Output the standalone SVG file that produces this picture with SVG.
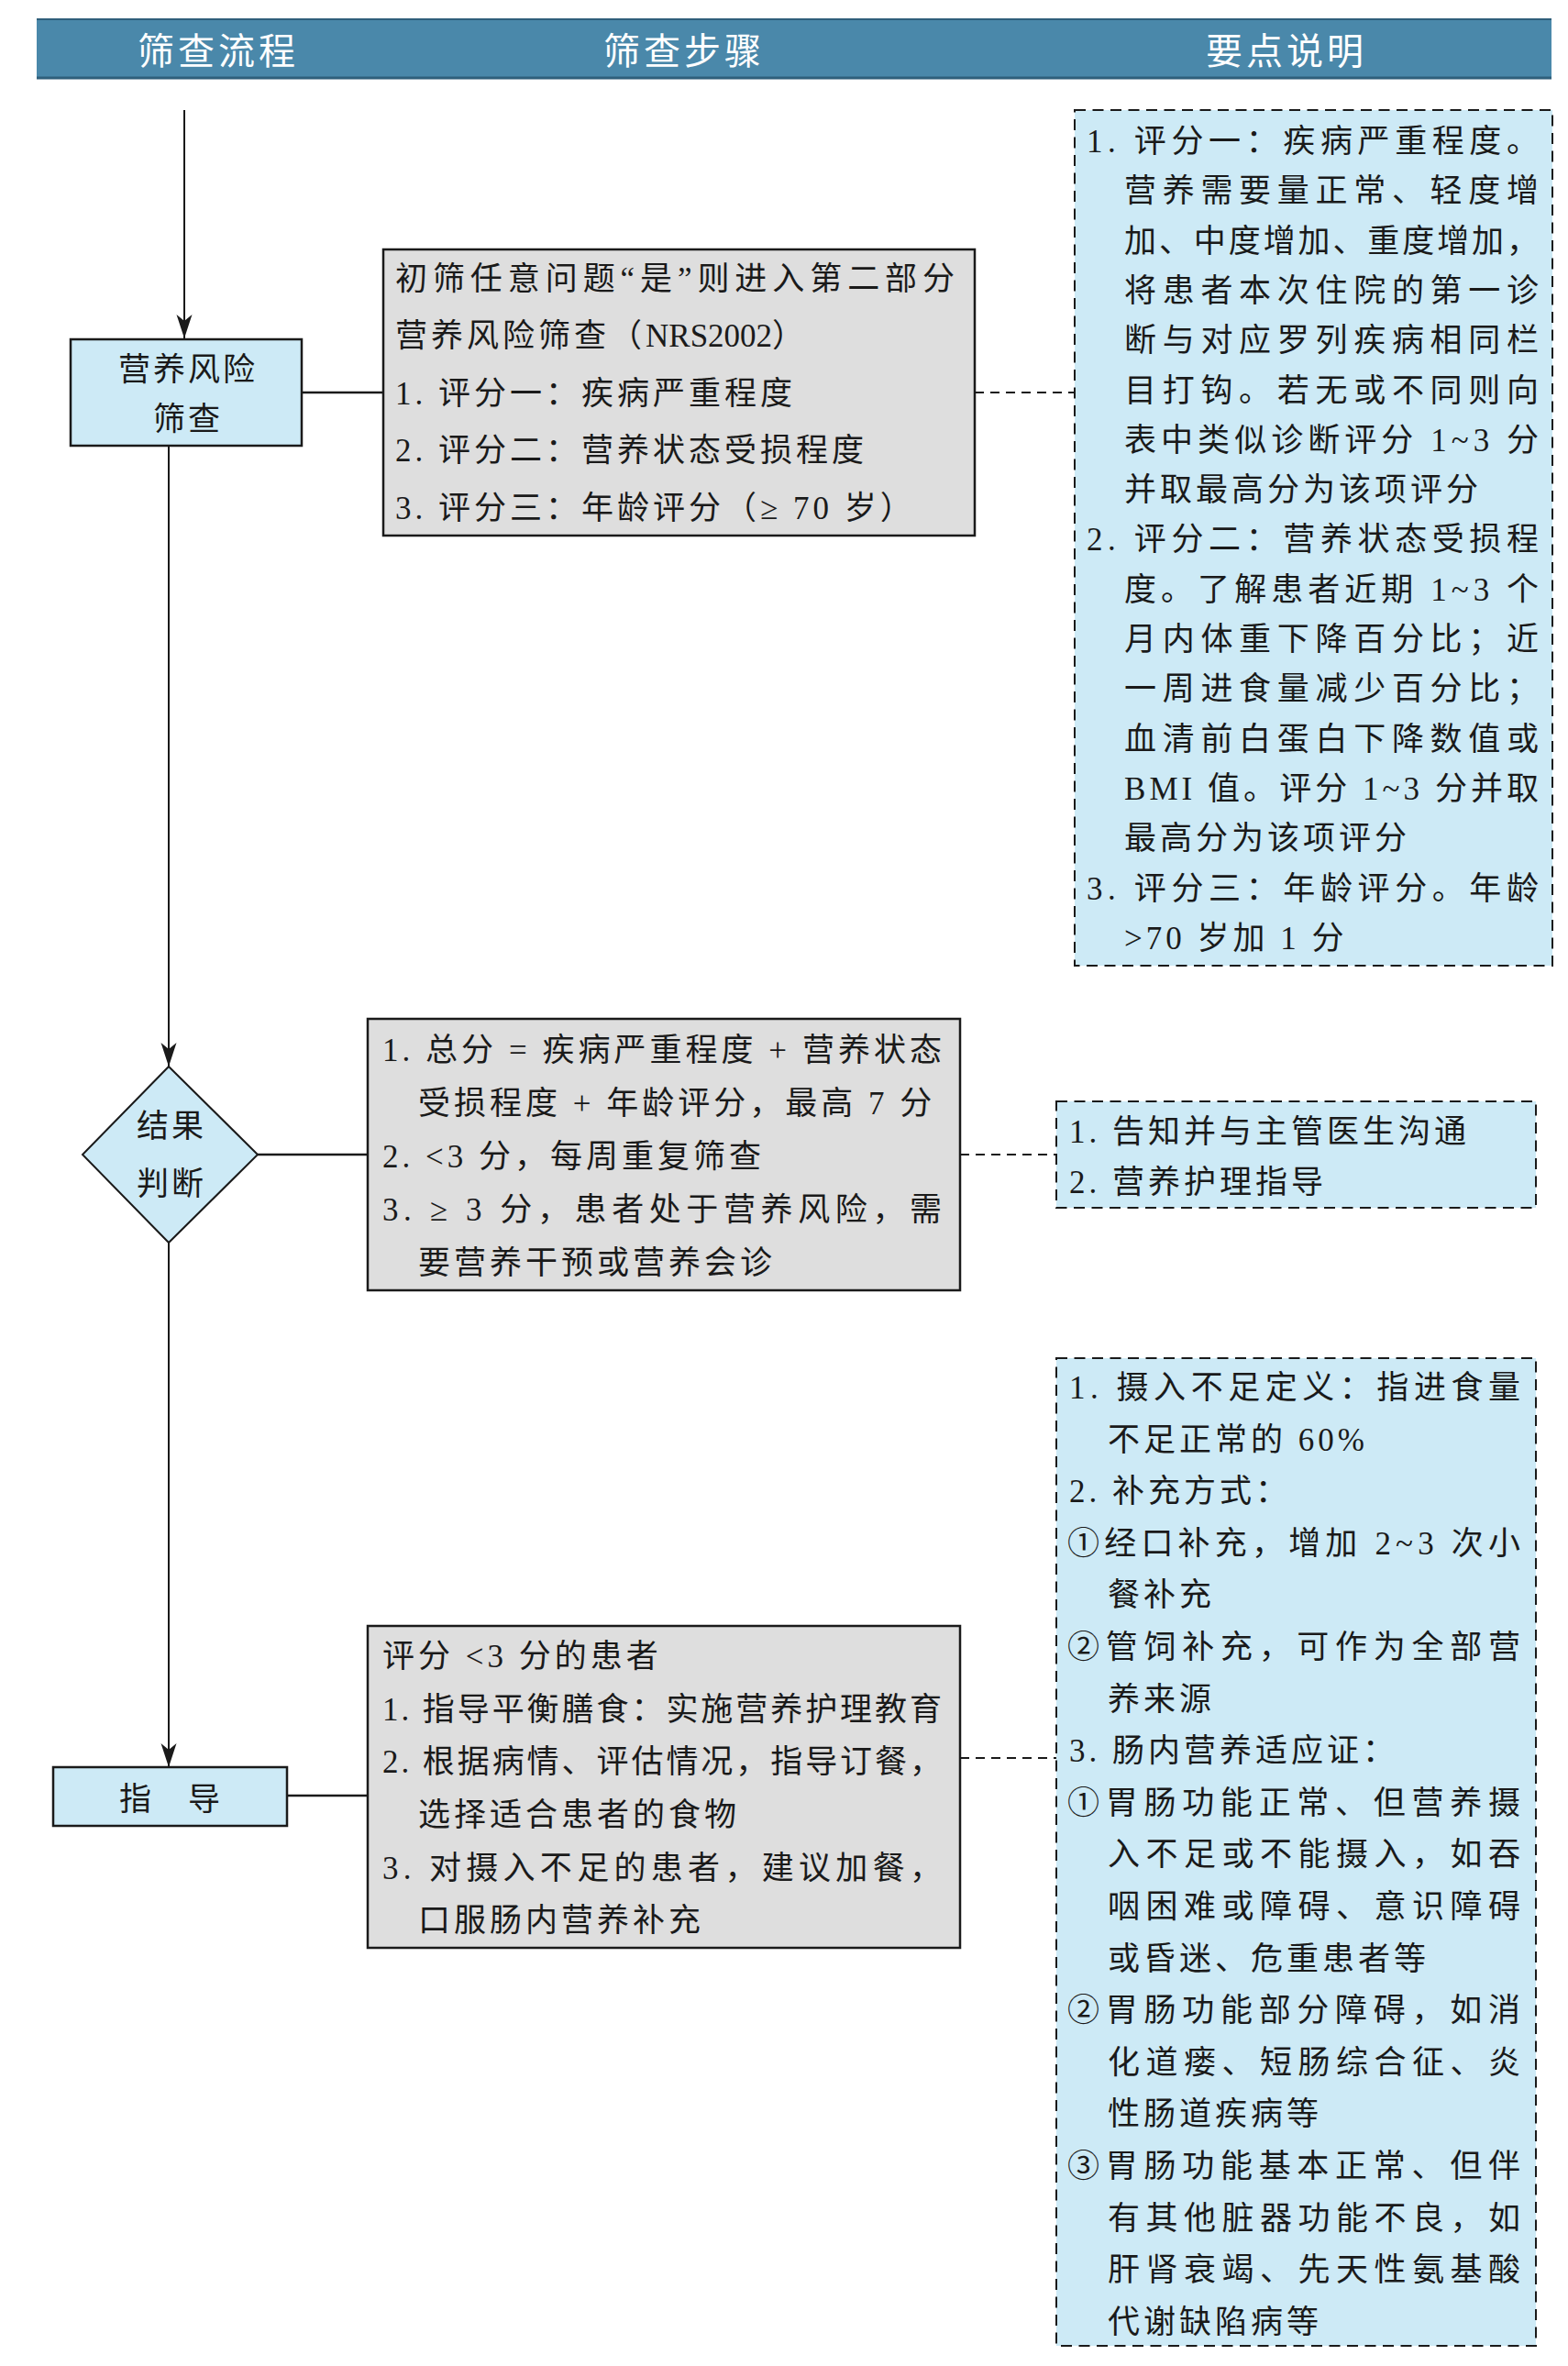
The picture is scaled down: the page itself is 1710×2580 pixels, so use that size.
<svg xmlns="http://www.w3.org/2000/svg" width="1710" height="2580" viewBox="0 0 1710 2580">
<style>
.hdr{font-family:"Noto Sans CJK SC",sans-serif;font-size:40px;fill:#ffffff;letter-spacing:4px;text-anchor:middle;dominant-baseline:central}
.t{font-family:"Liberation Serif","Noto Sans CJK SC",serif;font-size:35px;fill:#1a1a1a;letter-spacing:4px}
.c{text-anchor:middle;letter-spacing:3px}
.blue{fill:#cdeaf6;stroke:#1a1a1a;stroke-width:2.5}
.gray{fill:#dedede;stroke:#1a1a1a;stroke-width:2.5}
.dash{fill:#cdeaf6;stroke:#1a1a1a;stroke-width:2;stroke-dasharray:12 7.5}
.ln{stroke:#1a1a1a;stroke-width:2.5;fill:none}
.lv{stroke:#1a1a1a;stroke-width:2;fill:none}
.dl{stroke:#1a1a1a;stroke-width:2;fill:none;stroke-dasharray:10 7}
</style>
<defs>
<marker id="arr" viewBox="0 -9 26 18" markerWidth="26" markerHeight="18" refX="26" refY="0" markerUnits="userSpaceOnUse" orient="auto">
<path d="M0,-8.5 L26,0 L0,8.5 L7,0 Z" fill="#1a1a1a"/>
</marker>
</defs>

<g id="header">
<rect x="40" y="20" width="1652" height="66" fill="#4a88aa"/>
<line x1="40" y1="21" x2="1692" y2="21" stroke="#2f5f7b" stroke-width="2"/>
<line x1="40" y1="85" x2="1692" y2="85" stroke="#2f5f7b" stroke-width="3"/>
<text class="hdr" x="238" y="53">筛查流程</text>
<text class="hdr" x="746" y="53">筛查步骤</text>
<text class="hdr" x="1403" y="53">要点说明</text>
</g>

<g id="connectors">
<line class="lv" x1="201" y1="120" x2="201" y2="369" marker-end="url(#arr)"/>
<line class="lv" x1="184" y1="486" x2="184" y2="1163" marker-end="url(#arr)"/>
<line class="lv" x1="184" y1="1355" x2="184" y2="1927" marker-end="url(#arr)"/>
<line class="ln" x1="329" y1="428" x2="418" y2="428"/>
<line class="dl" x1="1063" y1="428" x2="1172" y2="428"/>
<line class="ln" x1="281" y1="1259" x2="401" y2="1259"/>
<line class="dl" x1="1047" y1="1259" x2="1152" y2="1259"/>
<line class="ln" x1="313" y1="1958" x2="401" y2="1958"/>
<line class="dl" x1="1047" y1="1917" x2="1152" y2="1917"/>
</g>

<g id="node-screen">
<rect class="blue" x="77" y="370" width="252" height="116"/>
<text class="t c" x="205" y="415">营养风险</text>
<text class="t c" x="205" y="469">筛查</text>
</g>

<g id="node-judge">
<polygon class="blue" style="stroke-width:2" points="184,1163 281,1259 184,1355 90,1259"/>
<text class="t c" x="187" y="1240">结果</text>
<text class="t c" x="187" y="1303">判断</text>
</g>

<g id="node-guide">
<rect class="blue" x="58" y="1927" width="255" height="64"/>
<text class="t" x="130" y="1974">指</text>
<text class="t" x="205" y="1974">导</text>
</g>

<g id="step-1">
<rect class="gray" x="418" y="272" width="645" height="312"/>
<text class="t" x="431" y="316" textLength="614" lengthAdjust="spacing">初筛任意问题“是”则进入第二部分</text>
<text class="t" x="431" y="378">营养风险筛查（<tspan style="letter-spacing:0">NRS2002</tspan>）</text>
<text class="t" x="431" y="441">1. 评分一：疾病严重程度</text>
<text class="t" x="431" y="503">2. 评分二：营养状态受损程度</text>
<text class="t" x="431" y="566">3. 评分三：年龄评分（≥ 70 岁）</text>
</g>

<g id="step-2">
<rect class="gray" x="401" y="1111" width="646" height="296"/>
<text class="t" x="417" y="1157" textLength="614" lengthAdjust="spacing">1. 总分 = 疾病严重程度 + 营养状态</text>
<text class="t" x="456" y="1215">受损程度 + 年龄评分，最高 7 分</text>
<text class="t" x="417" y="1273">2. &lt;3 分，每周重复筛查</text>
<text class="t" x="417" y="1331" textLength="614" lengthAdjust="spacing">3. ≥ 3 分，患者处于营养风险，需</text>
<text class="t" x="456" y="1389">要营养干预或营养会诊</text>
</g>

<g id="step-3">
<rect class="gray" x="401" y="1773" width="646" height="351"/>
<text class="t" x="417" y="1818">评分 &lt;3 分的患者</text>
<text class="t" x="417" y="1876" textLength="614" lengthAdjust="spacing">1. 指导平衡膳食：实施营养护理教育</text>
<text class="t" x="417" y="1933" textLength="614" lengthAdjust="spacing">2. 根据病情、评估情况，指导订餐，</text>
<text class="t" x="456" y="1991">选择适合患者的食物</text>
<text class="t" x="417" y="2049" textLength="614" lengthAdjust="spacing">3. 对摄入不足的患者，建议加餐，</text>
<text class="t" x="456" y="2106">口服肠内营养补充</text>
</g>

<g id="note-1">
<rect class="dash" x="1172" y="120" width="521" height="933"/>
<text class="t" x="1185" y="166" textLength="497" lengthAdjust="spacing">1. 评分一：疾病严重程度。</text>
<text class="t" x="1226" y="220" textLength="456" lengthAdjust="spacing">营养需要量正常、轻度增</text>
<text class="t" x="1226" y="275" textLength="456" lengthAdjust="spacing">加、中度增加、重度增加，</text>
<text class="t" x="1226" y="329" textLength="456" lengthAdjust="spacing">将患者本次住院的第一诊</text>
<text class="t" x="1226" y="383" textLength="456" lengthAdjust="spacing">断与对应罗列疾病相同栏</text>
<text class="t" x="1226" y="438" textLength="456" lengthAdjust="spacing">目打钩。若无或不同则向</text>
<text class="t" x="1226" y="492" textLength="456" lengthAdjust="spacing">表中类似诊断评分 1~3 分</text>
<text class="t" x="1226" y="546">并取最高分为该项评分</text>
<text class="t" x="1185" y="600" textLength="497" lengthAdjust="spacing">2. 评分二：营养状态受损程</text>
<text class="t" x="1226" y="655" textLength="456" lengthAdjust="spacing">度。了解患者近期 1~3 个</text>
<text class="t" x="1226" y="709" textLength="456" lengthAdjust="spacing">月内体重下降百分比；近</text>
<text class="t" x="1226" y="763" textLength="456" lengthAdjust="spacing">一周进食量减少百分比；</text>
<text class="t" x="1226" y="818" textLength="456" lengthAdjust="spacing">血清前白蛋白下降数值或</text>
<text class="t" x="1226" y="872" textLength="456" lengthAdjust="spacing">BMI 值。评分 1~3 分并取</text>
<text class="t" x="1226" y="926">最高分为该项评分</text>
<text class="t" x="1185" y="981" textLength="497" lengthAdjust="spacing">3. 评分三：年龄评分。年龄</text>
<text class="t" x="1226" y="1035">&gt;70 岁加 1 分</text>
</g>

<g id="note-2">
<rect class="dash" x="1152" y="1201" width="523" height="116"/>
<text class="t" x="1166" y="1246">1. 告知并与主管医生沟通</text>
<text class="t" x="1166" y="1301">2. 营养护理指导</text>
</g>

<g id="note-3">
<rect class="dash" x="1152" y="1481" width="523" height="1077"/>
<text class="t" x="1166" y="1525" textLength="496" lengthAdjust="spacing">1. 摄入不足定义：指进食量</text>
<text class="t" x="1208" y="1582">不足正常的 60%</text>
<text class="t" x="1166" y="1638">2. 补充方式：</text>
<text class="t" x="1164" y="1695" textLength="498" lengthAdjust="spacing">①经口补充，增加 2~3 次小</text>
<text class="t" x="1208" y="1751">餐补充</text>
<text class="t" x="1164" y="1808" textLength="498" lengthAdjust="spacing">②管饲补充，可作为全部营</text>
<text class="t" x="1208" y="1865">养来源</text>
<text class="t" x="1166" y="1921">3. 肠内营养适应证：</text>
<text class="t" x="1164" y="1978" textLength="498" lengthAdjust="spacing">①胃肠功能正常、但营养摄</text>
<text class="t" x="1208" y="2034" textLength="454" lengthAdjust="spacing">入不足或不能摄入，如吞</text>
<text class="t" x="1208" y="2091" textLength="454" lengthAdjust="spacing">咽困难或障碍、意识障碍</text>
<text class="t" x="1208" y="2148">或昏迷、危重患者等</text>
<text class="t" x="1164" y="2204" textLength="498" lengthAdjust="spacing">②胃肠功能部分障碍，如消</text>
<text class="t" x="1208" y="2261" textLength="454" lengthAdjust="spacing">化道瘘、短肠综合征、炎</text>
<text class="t" x="1208" y="2317">性肠道疾病等</text>
<text class="t" x="1164" y="2374" textLength="498" lengthAdjust="spacing">③胃肠功能基本正常、但伴</text>
<text class="t" x="1208" y="2431" textLength="454" lengthAdjust="spacing">有其他脏器功能不良，如</text>
<text class="t" x="1208" y="2487" textLength="454" lengthAdjust="spacing">肝肾衰竭、先天性氨基酸</text>
<text class="t" x="1208" y="2544">代谢缺陷病等</text>
</g>
</svg>
